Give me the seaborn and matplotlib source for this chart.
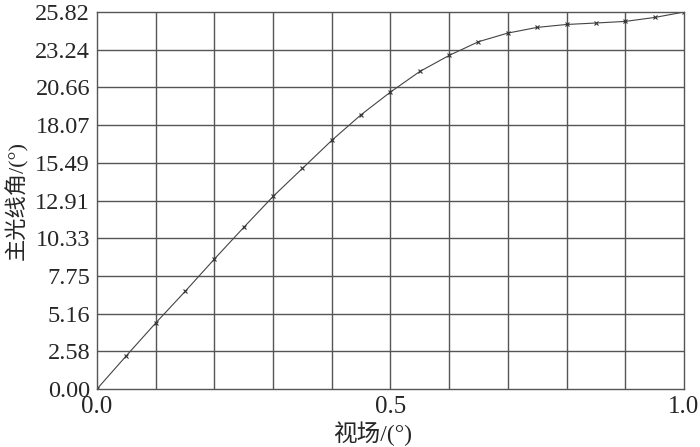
import numpy as np
import pandas as pd
import matplotlib
matplotlib.use("Agg")
import matplotlib.pyplot as plt
import seaborn as sns

# 视场 (归一化) 与主光线角
field = [0.0, 0.05, 0.10, 0.15, 0.20, 0.25, 0.30, 0.35, 0.40, 0.45, 0.50,
         0.55, 0.60, 0.65, 0.70, 0.75, 0.80, 0.85, 0.90, 0.95, 1.0]
cra = [0.00, 2.28, 4.52, 6.68, 8.90, 11.07, 13.19, 15.11, 17.03, 18.79, 20.34,
       21.75, 22.85, 23.79, 24.38, 24.77, 24.97, 25.07, 25.18, 25.45, 25.82]

y_ticks = [0.00, 2.58, 5.16, 7.75, 10.33, 12.91, 15.49, 18.07, 20.66, 23.24, 25.82]
y_tick_labels = ["0.00", "2.58", "5.16", "7.75", "10.33", "12.91",
                 "15.49", "18.07", "20.66", "23.24", "25.82"]
x_ticks = [0.0, 0.5, 1.0]
x_tick_labels = ["0.0", "0.5", "1.0"]

df = pd.DataFrame({"field": field, "cra": cra})

sns.set_style("white")
plt.rcParams['font.family'] = ['Liberation Serif', 'Noto Sans CJK SC']

fig = plt.figure(figsize=(7, 4.47), dpi=100)
ax = fig.add_axes([0.1386, 0.1298, 0.8384, 0.8432])

sns.lineplot(data=df, x="field", y="cra", ax=ax, color="#444444",
             linewidth=0.8, marker="x", markersize=3.5, markeredgewidth=0.8,
             markeredgecolor="#333333")

ax.set_xlim(0, 1.0)
ax.set_ylim(0, 25.82)

# 网格: x 每 0.1 一条, y 按刻度
for gx in np.arange(1, 10) / 10:
    ax.axvline(gx, color="#555555", linewidth=1.0, zorder=0)
for gy in y_ticks[1:-1]:
    ax.axhline(gy, color="#555555", linewidth=1.0, zorder=0)

ax.set_xticks(x_ticks)
ax.set_xticklabels(x_tick_labels)
ax.set_yticks(y_ticks)
ax.set_yticklabels(y_tick_labels)
ax.tick_params(axis="x", direction="out", length=4, width=0.8, color="#555555",
               labelsize=18, pad=1)
ax.tick_params(axis="y", length=0, labelsize=17.5, pad=5)

for s in ax.spines.values():
    s.set_color("#555555")
    s.set_linewidth(1.0)

ax.set_xlabel("视场/(°)", fontsize=17, labelpad=2)
ax.xaxis.set_label_coords(0.47, -0.085)
ax.set_ylabel("主光线角/(°)", fontsize=16)
ax.yaxis.set_label_coords(-0.118, 0.5)

fig.savefig("out.png", dpi=100)
